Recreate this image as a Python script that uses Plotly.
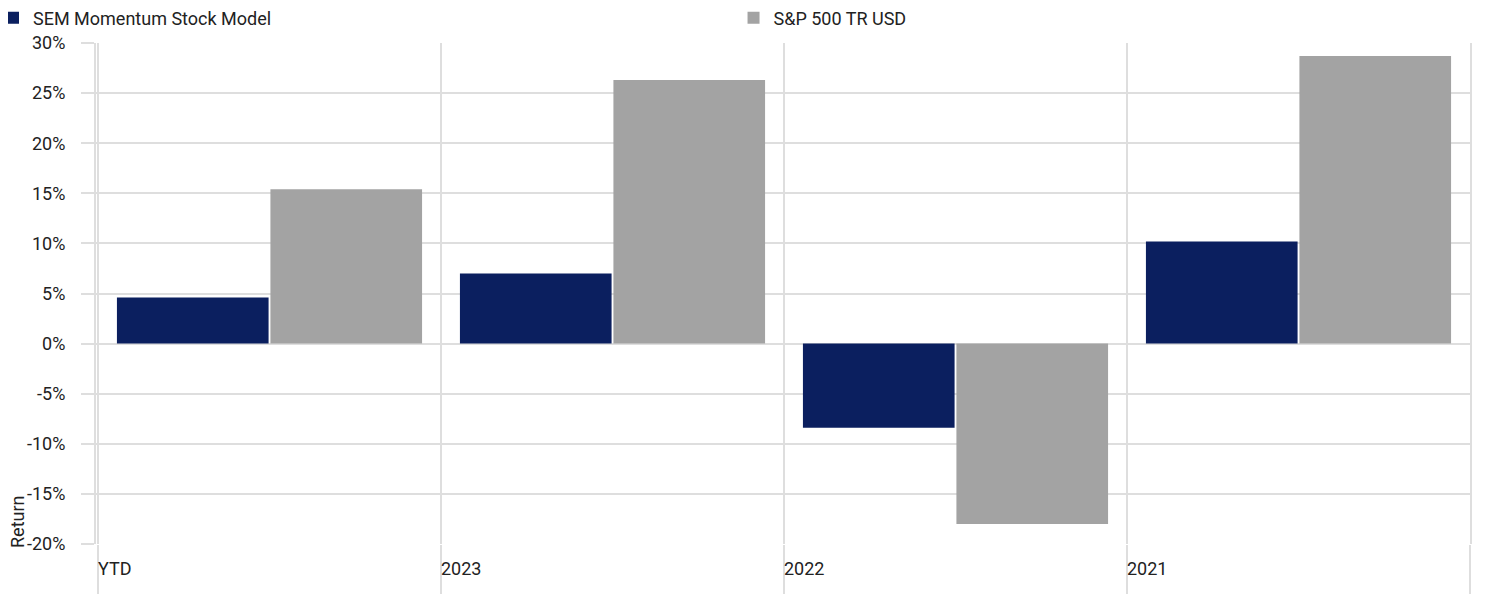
import plotly.graph_objects as go

# return by period, in percent
periods = ["YTD", "2023", "2022", "2021"]
sem_returns = [4.6, 7.0, -8.4, 10.2]
sp500_returns = [15.4, 26.3, -18.0, 28.7]

y_ticks = [-20, -15, -10, -5, 0, 5, 10, 15, 20, 25, 30]
y_tick_labels = [f"{v}%" for v in y_ticks]

GRID = "#dedede"
FONT = "Roboto, Liberation Sans, sans-serif"
TEXT = "#222222"

fig = go.Figure()

fig.add_trace(
    go.Bar(
        x=periods,
        y=sem_returns,
        name="SEM Momentum Stock Model",
        marker=dict(color="#0b1f5f", line=dict(width=0)),
    )
)
fig.add_trace(
    go.Bar(
        x=periods,
        y=sp500_returns,
        name="S&P 500 TR USD",
        marker=dict(color="#a3a3a3", line=dict(width=0)),
        legend="legend2",
    )
)

# period labels sit at the left edge of each category, not centred
for i, p in enumerate(periods):
    fig.add_annotation(
        x=i - 0.5,
        y=0,
        xref="x",
        yref="paper",
        yanchor="top",
        xanchor="left",
        yshift=-12,
        xshift=-2,
        text=p,
        showarrow=False,
        font=dict(size=18, color=TEXT),
    )

fig.add_annotation(
    x=0,
    y=0,
    xref="paper",
    yref="paper",
    xanchor="right",
    yanchor="bottom",
    xshift=-66,
    yshift=-6,
    text="Return",
    textangle=-90,
    showarrow=False,
    font=dict(size=18, color=TEXT),
)

# one legend per series so the second entry can sit mid-page
legend_style = dict(
    orientation="h",
    y=1.05,
    xanchor="left",
    yanchor="middle",
    font=dict(size=18, color=TEXT),
    bgcolor="rgba(0,0,0,0)",
)

fig.update_layout(
    width=1477,
    height=586,
    showlegend=True,
    barmode="group",
    bargap=0.105,
    bargroupgap=0.012,
    plot_bgcolor="white",
    paper_bgcolor="white",
    font=dict(family=FONT, size=18, color=TEXT),
    margin=dict(l=88, r=15, t=35, b=50, autoexpand=False),
    legend=dict(x=0.0, xref="container", indentation=-15, **legend_style),
    legend2=dict(x=0.464, **legend_style),
    xaxis=dict(
        tickson="boundaries",
        showgrid=True,
        gridcolor=GRID,
        gridwidth=2,
        ticks="outside",
        ticklen=50,
        tickwidth=2,
        tickcolor=GRID,
        showticklabels=False,
        showline=False,
        zeroline=False,
    ),
    yaxis=dict(
        range=[-20, 30],
        tickvals=y_ticks,
        ticktext=y_tick_labels,
        showgrid=True,
        gridcolor=GRID,
        gridwidth=2,
        zeroline=True,
        zerolinecolor=GRID,
        zerolinewidth=2,
        ticks="outside",
        ticklen=13,
        tickwidth=2,
        tickcolor=GRID,
        ticklabelstandoff=12,
        showline=True,
        mirror=True,
        linecolor=GRID,
        linewidth=2,
        tickfont=dict(size=18),
    ),
)

fig.write_html("out.html")
